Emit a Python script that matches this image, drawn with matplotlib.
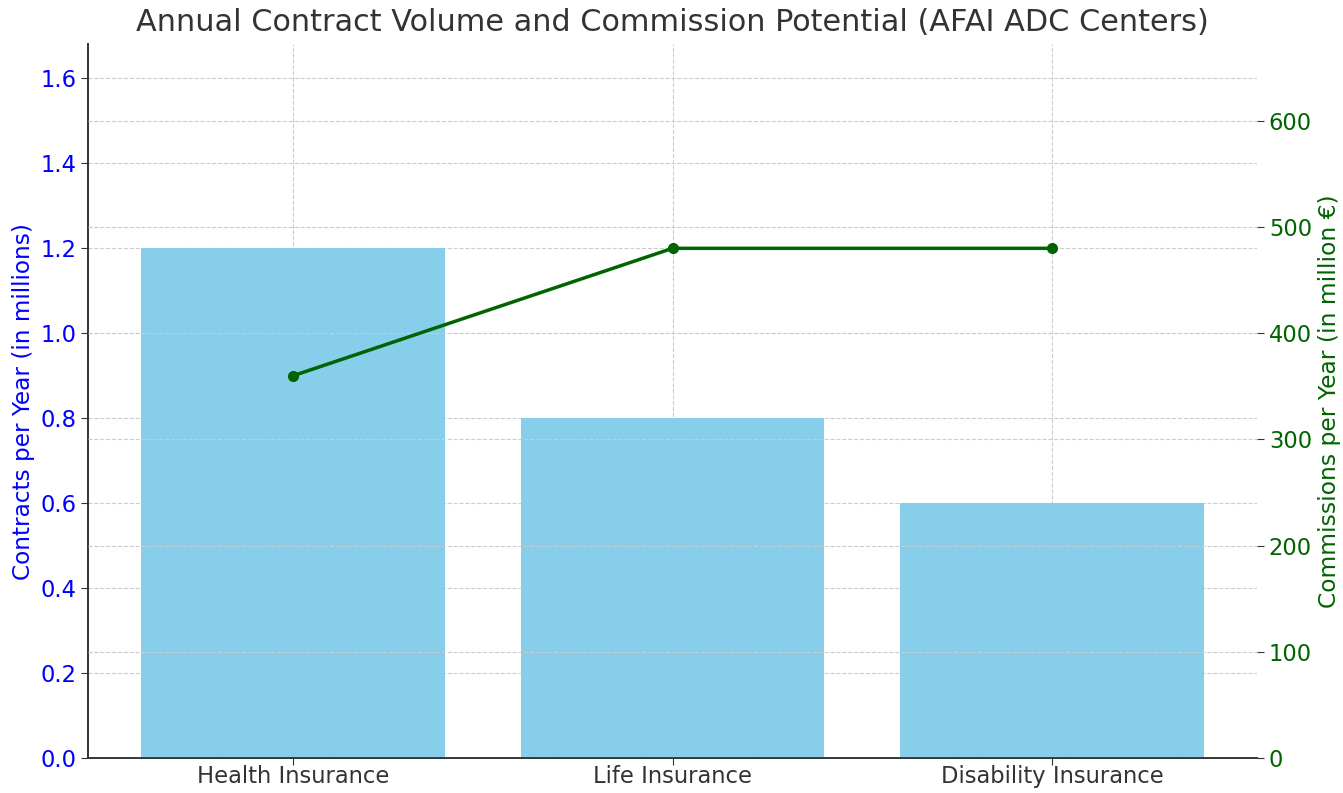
import matplotlib
matplotlib.use("Agg")
import matplotlib.pyplot as plt
import numpy as np

categories = ["Health Insurance", "Life Insurance", "Disability Insurance"]
contracts_millions = [1.2, 0.8, 0.6]
commissions_million_eur = [360, 480, 480]

fig, ax = plt.subplots(figsize=(13.43, 7.93), dpi=100)
fig.subplots_adjust(left=0.0655, right=0.936, top=0.944, bottom=0.044)

x = np.arange(len(categories))
ax.bar(x, contracts_millions, width=0.8, color="skyblue", zorder=2)
ax.set_xticks(x)
ax.set_xticklabels(categories, fontsize=16.3, color="#333333")
ax.set_ylim(0, 1.68)
ax.set_yticks(np.arange(0, 1.61, 0.2))
ax.tick_params(axis="y", labelcolor="blue", labelsize=16.3, color="#333333", length=5)
ax.tick_params(axis="x", color="#333333", length=5, pad=0)
ax.set_ylabel("Contracts per Year (in millions)", color="blue", fontsize=16.7)
ax.grid(True, linestyle="--", color="#cccccc", linewidth=0.8, zorder=0)
ax.set_axisbelow(True)
for s in ["top", "right"]:
    ax.spines[s].set_visible(False)
for s in ["left", "bottom"]:
    ax.spines[s].set_color("#333333")
    ax.spines[s].set_linewidth(1.4)

ax2 = ax.twinx()
ax2.plot(x, commissions_million_eur, color="darkgreen", marker="o", linewidth=2.5, markersize=7)
ax2.set_ylim(0, 672)
ax2.set_yticks(np.arange(0, 601, 100))
ax2.tick_params(axis="y", labelcolor="darkgreen", labelsize=16.3, color="#333333", length=5)
ax2.set_ylabel("Commissions per Year (in million €)", color="darkgreen", fontsize=16.8)
ax2.grid(True, linestyle="--", color="#cccccc", linewidth=0.8)
for s in ["top", "right", "left", "bottom"]:
    ax2.spines[s].set_visible(False)

ax.set_title("Annual Contract Volume and Commission Potential (AFAI ADC Centers)", fontsize=21.8, color="#333333", pad=10)

fig.savefig("out.png", dpi=100)
